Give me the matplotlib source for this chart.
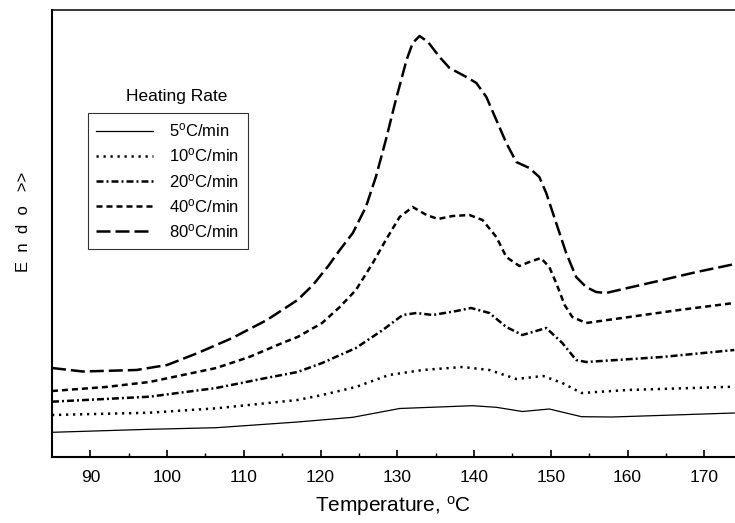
import matplotlib
matplotlib.use("Agg")
import matplotlib.pyplot as plt

plt.rcParams['font.family'] = ['Liberation Sans', 'DejaVu Sans']
plt.rcParams['mathtext.fontset'] = 'custom'
plt.rcParams['mathtext.rm'] = 'Liberation Sans'
plt.rcParams['mathtext.it'] = 'Liberation Sans'

# ---- data (temperature in degC, signal in arbitrary units) ----
t_5 = [85, 97.7, 106.4, 117, 124.2, 130.3, 139.8, 142.9, 146.3, 149.8, 154, 158, 164, 173.9]
y_5 = [24.7, 27.7, 29.3, 35, 39.7, 48.5, 51.3, 49.7, 45.5, 48, 40.3, 40, 41.5, 44]

t_10 = [85, 97.7, 106.4, 117, 120.2, 124.6, 128.9, 133.3, 138.5, 142, 145.5, 149, 151.5, 154, 160, 173.9]
y_10 = [42, 44.3, 48.7, 57, 62, 70, 82, 87, 90, 87, 78, 81, 74, 64, 67, 70.3]

t_20 = [85, 97.7, 106.4, 112.9, 117, 120.2, 124.6, 128.1, 130.7, 132.5, 134.6, 137.7, 139.6,
        142, 144.2, 146.3, 149.4, 151.5, 153.3, 154.6, 164.5, 173.9]
y_20 = [55.3, 60.3, 69, 79, 85, 94, 109, 127, 142, 144, 142, 146, 149,
        144, 130, 122, 129, 114, 97, 95, 100, 107]

t_40 = [85, 92, 97.7, 106.4, 110.7, 115, 117, 120.2, 122.5, 124.6, 126.8, 128.5, 130.3, 132.0,
        133.8, 135.3, 137.2, 139.4, 141.1, 142.9, 144.2, 145.9, 147.2, 148.7, 149.8, 150.7,
        151.8, 152.8, 154.6, 160.2, 166.7, 173.9]
y_40 = [66, 70, 75, 89, 100, 114, 120, 134, 150, 167, 194, 217, 240, 250,
        242, 238, 241, 242, 237, 220, 200, 191, 195, 199, 190, 174,
        152, 140, 134, 140, 147, 154]

t_80 = [85, 89, 96, 100, 104, 108.5, 113, 117, 119, 121, 122.5, 124.2, 125.9, 127.2, 128.5,
        129.8, 131.2, 132.0, 132.9, 134.0, 135.5, 136.8, 139.0, 140.3, 141.6, 142.9, 144.2,
        145.5, 147.2, 148.5, 149.4, 150.7, 152.0, 153.3, 154.6, 155.9, 157.2, 160, 164, 169, 174]
y_80 = [89, 85.5, 87, 92, 104, 119, 137, 157, 172, 191, 207, 224, 250, 280, 317,
        357, 397, 414, 421, 415, 400, 389, 380, 374, 360, 337, 314,
        295, 289, 280, 264, 234, 204, 180, 170, 165, 164, 169, 176, 185, 193]

labels = ["5$^{\\mathrm{o}}$C/min", "10$^{\\mathrm{o}}$C/min", "20$^{\\mathrm{o}}$C/min",
          "40$^{\\mathrm{o}}$C/min", "80$^{\\mathrm{o}}$C/min"]
xticks = [90, 100, 110, 120, 130, 140, 150, 160, 170]

W, H = 735, 523
fig = plt.figure(figsize=(W / 100, H / 100), dpi=100)
ax = fig.add_axes([52 / W, (H - 457) / H, (W - 52) / W, (457 - 10) / H])

lw = 1.8
kw = dict(color='black', solid_joinstyle='round', dash_joinstyle='round')
ax.plot(t_5, y_5, lw=0.9, linestyle='-', label=labels[0], **kw)
ax.plot(t_10, y_10, lw=lw, linestyle=(0, (0.9, 1.9)), label=labels[1], **kw)
ax.plot(t_20, y_20, lw=lw, linestyle=(0, (2.8, 1.2, 0.8, 1.2)), label=labels[2], **kw)
ax.plot(t_40, y_40, lw=lw, linestyle=(0, (2.4, 1.6)), label=labels[3], **kw)
ax.plot(t_80, y_80, lw=lw, linestyle=(0, (5.6, 2.0)), label=labels[4], **kw)

ax.set_xlim(85, 174)
ax.set_ylim(0, 447)
ax.set_xticks(xticks)
ax.set_xticks([95, 105, 115, 125, 135, 145, 155, 165], minor=True)
ax.set_yticks([])
ax.tick_params(axis='x', which='major', direction='in', length=5, width=1.2,
               labelsize=12.5, pad=9)
ax.tick_params(axis='x', which='minor', direction='in', length=3, width=1.0)
ax.spines['right'].set_visible(False)
for s in ['left', 'bottom']:
    ax.spines[s].set_linewidth(1.5)
ax.spines['top'].set_linewidth(1.1)

ax.set_xlabel("Temperature, $^{\\mathrm{o}}$C", fontsize=15, labelpad=7)
fig.text(23 / W, 1 - 222 / H, "E  n  d  o   >>", rotation=90, fontsize=12,
         ha='center', va='center')

fig.text(177 / W, 1 - 96 / H, "Heating Rate", fontsize=12.5, ha='center', va='center')
leg = ax.legend(loc='upper left', bbox_to_anchor=(87.7 / W, 1 - 113.3 / H),
                bbox_transform=fig.transFigure, fontsize=12, frameon=True,
                fancybox=False, edgecolor='black', handlelength=3.4,
                handletextpad=1.0, labelspacing=0.43, borderpad=0.5,
                borderaxespad=0)
leg.get_frame().set_linewidth(0.8)

fig.savefig("out.png", dpi=100)
